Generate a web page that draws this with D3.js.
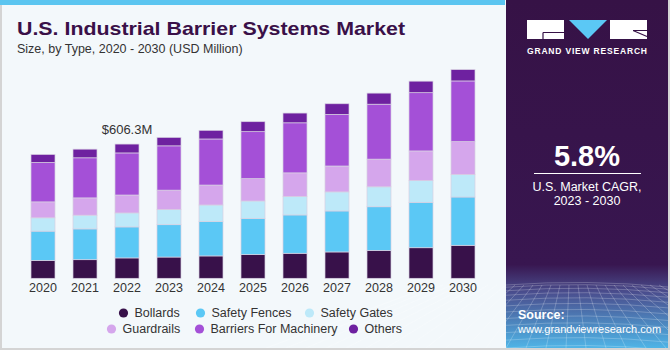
<!DOCTYPE html>
<html lang="en">
<head>
<meta charset="UTF-8">
<title>U.S. Industrial Barrier Systems Market</title>
<script src="https://d3js.org/d3.v7.min.js"></script>
<style>
    body { margin: 0; }
    text { font-family: "Liberation Sans", Arial, sans-serif; }
    .title { font-size: 19px; font-weight: bold; fill: #3a1048; }
    .subtitle { font-size: 12.5px; fill: #333; }
    .tick text { font-size: 12.5px; fill: #333; }
    .legend text { font-size: 12.5px; fill: #333; }
</style>
</head>
<body>
<svg width="670" height="350"></svg>
<script>
var years = ["2020", "2021", "2022", "2023", "2024", "2025", "2026", "2027", "2028", "2029", "2030"];
var seriesNames = ["Bollards", "Safety Fences", "Safety Gates", "Guardrails", "Barriers For Machinery", "Others"];
var bollards          = [81, 84, 92, 96, 101, 107, 113, 119, 126, 138, 149];
var safetyFences      = [132, 139, 140, 146, 155, 163, 173, 185, 197, 205, 218];
var safetyGates       = [60, 62, 63, 68, 75, 79, 83, 86, 90, 98, 101];
var guardrails        = [72, 78, 81, 88, 90, 101, 107, 117, 125, 134, 149];
var barriersMachinery = [178, 181, 190, 200, 208, 212, 226, 233, 248, 263, 274];
var others            = [36, 39, 40, 38, 39, 45, 44, 48, 50, 52, 51];
var colors = ["#38114a", "#5bc8f5", "#bde9f9", "#d5a6ec", "#a450d7", "#6e21a0"];

var svg = d3.select("svg");

// backgrounds
svg.append("rect").attr("width", 670).attr("height", 350).attr("fill", "#d4d4d4");
svg.append("rect").attr("x", 2).attr("y", 0).attr("width", 666).attr("height", 348).attr("fill", "#f3f8fb");
svg.append("rect").attr("x", 0).attr("y", 0).attr("width", 505).attr("height", 5).attr("fill", "#5bc5f0");

// right panel
var defs = svg.append("defs");
var grad = defs.append("linearGradient").attr("id", "panelGrad")
    .attr("x1", 0).attr("y1", 0).attr("x2", 0).attr("y2", 1);
grad.append("stop").attr("offset", "0").attr("stop-color", "#361246");
grad.append("stop").attr("offset", "0.76").attr("stop-color", "#381650");
grad.append("stop").attr("offset", "0.84").attr("stop-color", "#4a4e8e");
grad.append("stop").attr("offset", "1").attr("stop-color", "#4fb4e6");
svg.append("rect").attr("x", 506).attr("y", 0).attr("width", 162).attr("height", 348)
    .attr("fill", "url(#panelGrad)");

// perspective grid decoration
var grid = svg.append("g").attr("stroke", "#ffffff").attr("stroke-opacity", 0.22).attr("fill", "none");
d3.range(0, 12).forEach(function(i) {
    var yy = 285 + Math.pow(i / 11, 1.4) * 63;
    grid.append("path").attr("d", "M506," + yy + "Q587," + (yy - 6) + " 668," + (yy + 2));
});
d3.range(-8, 22).forEach(function(i) {
    var xt = 506 + i * 9, xb = 506 + (i - 4) * 20;
    grid.append("line").attr("x1", xt).attr("y1", 285).attr("x2", xb).attr("y2", 348);
});
svg.append("rect").attr("x", 668).attr("y", 0).attr("width", 2).attr("height", 350).attr("fill", "#d4d4d4");
svg.append("rect").attr("x", 0).attr("y", 348).attr("width", 670).attr("height", 2).attr("fill", "#d4d4d4");

// logo
var logo = svg.append("g");
logo.append("rect").attr("x", 527).attr("y", 20).attr("width", 37).attr("height", 19).attr("fill", "#fff");
logo.append("path").attr("d", "M543,32.5H564M543,32.5V39").attr("stroke", "#361246").attr("stroke-width", 1.2);
logo.append("path").attr("d", "M569,20H607L588,39Z").attr("fill", "#5bc8f5");
logo.append("rect").attr("x", 610).attr("y", 20).attr("width", 37).attr("height", 19).attr("fill", "#fff");
logo.append("path").attr("d", "M633,30.5L647,36.5M633,30.5H647").attr("stroke", "#361246").attr("stroke-width", 1.2);
logo.append("text").attr("x", 587).attr("y", 53.5).attr("text-anchor", "middle")
    .attr("fill", "#fff").style("font-size", "8.5px").style("font-weight", "bold")
    .attr("textLength", 120).attr("lengthAdjust", "spacing")
    .text("GRAND VIEW RESEARCH");

// CAGR
svg.append("text").attr("x", 587).attr("y", 166).attr("text-anchor", "middle")
    .attr("fill", "#fff").style("font-size", "29px").style("font-weight", "bold").text("5.8%");
svg.append("line").attr("x1", 534).attr("x2", 641).attr("y1", 173.5).attr("y2", 173.5)
    .attr("stroke", "#fff").attr("stroke-width", 1);
svg.append("text").attr("x", 587).attr("y", 191).attr("text-anchor", "middle")
    .attr("fill", "#fff").style("font-size", "12.5px").text("U.S. Market CAGR,");
svg.append("text").attr("x", 587).attr("y", 205).attr("text-anchor", "middle")
    .attr("fill", "#fff").style("font-size", "12.5px").text("2023 - 2030");
svg.append("text").attr("x", 518).attr("y", 319).attr("fill", "#fff")
    .style("font-size", "12.5px").style("font-weight", "bold").text("Source:");
svg.append("text").attr("x", 518).attr("y", 333).attr("fill", "#fff")
    .style("font-size", "11px")
    .text("www.grandviewresearch.com");

// titles
svg.append("text").attr("class", "title").attr("x", 17).attr("y", 35)
    .attr("textLength", 388).attr("lengthAdjust", "spacingAndGlyphs")
    .text("U.S. Industrial Barrier Systems Market");
svg.append("text").attr("class", "subtitle").attr("x", 17).attr("y", 53)
    .text("Size, by Type, 2020 - 2030 (USD Million)");

// chart
var x = d3.scaleBand().domain(years).range([22, 484]).paddingInner(0.4286).paddingOuter(0.2143);
var y = d3.scaleLinear().domain([0, 1000]).range([278.3, 56.8]);

var table = years.map(function(yr, i) {
    return {
        year: yr,
        "Bollards": bollards[i],
        "Safety Fences": safetyFences[i],
        "Safety Gates": safetyGates[i],
        "Guardrails": guardrails[i],
        "Barriers For Machinery": barriersMachinery[i],
        "Others": others[i]
    };
});
var stacked = d3.stack().keys(seriesNames)(table);

var layers = svg.append("g").selectAll("g").data(stacked).enter().append("g")
    .attr("fill", function(d, i) { return colors[i]; });
layers.selectAll("rect").data(function(d) { return d; }).enter().append("rect")
    .attr("x", function(d) { return x(d.data.year); })
    .attr("width", x.bandwidth())
    .attr("y", function(d) { return y(d[1]); })
    .attr("height", function(d) { return y(d[0]) - y(d[1]); })
    .attr("stroke", "#d8d0e2")
    .attr("stroke-width", 0.7);

// annotation for 2022
var i22 = years.indexOf("2022");
var total22 = stacked[stacked.length - 1][i22][1];
svg.append("text").attr("x", x("2022") + x.bandwidth() / 2).attr("y", y(total22) - 10)
    .attr("text-anchor", "middle").style("font-size", "13px").attr("fill", "#333")
    .text("$606.3M");

var xAxis = svg.append("g").attr("transform", "translate(0,278.3)")
    .call(d3.axisBottom(x).tickSize(0).tickPadding(5));
xAxis.select(".domain").remove();
xAxis.selectAll("text").style("font-family", "'Liberation Sans', Arial, sans-serif");

// legend
var legendPos = [
    { cx: 123.5, ty: 313 }, { cx: 200.5, ty: 313 }, { cx: 309.5, ty: 313 },
    { cx: 111.5, ty: 329 }, { cx: 199.5, ty: 329 }, { cx: 353.5, ty: 329 }
];
var legend = svg.append("g").attr("class", "legend");
var items = legend.selectAll("g").data(seriesNames).enter().append("g")
    .attr("transform", function(d, i) { return "translate(" + legendPos[i].cx + "," + legendPos[i].ty + ")"; });
items.append("circle").attr("r", 4.6).attr("fill", function(d, i) { return colors[i]; });
items.append("text").attr("x", 11).attr("dy", "0.35em").text(function(d) { return d; });
</script>
</body>
</html>
